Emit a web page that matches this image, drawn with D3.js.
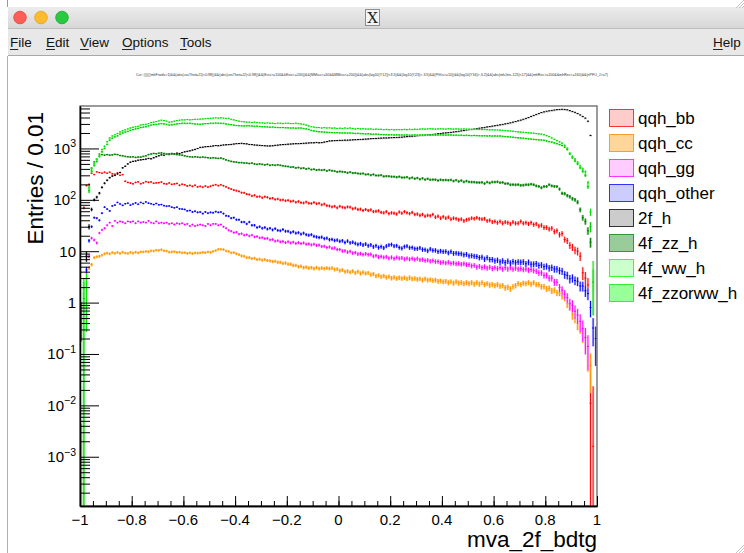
<!DOCTYPE html>
<html>
<head>
<meta charset="utf-8">
<script src="https://cdn.jsdelivr.net/npm/d3@7"></script>
<style>
  html, body { margin: 0; padding: 0; background: #fff; overflow: hidden; }
  svg { display: block; font-family: "Liberation Sans", Arial, Helvetica, sans-serif; }
</style>
</head>
<body>
<svg id="canvas" width="744" height="553"></svg>
<script>
// ---------------------------------------------------------------
// Histogram contents: 200 bins of width 0.01 on [-1, 1]
// ---------------------------------------------------------------
const xRange = [-1, 1];
const binWidth = 0.01;

const seriesNames = ["qqh_bb", "qqh_cc", "qqh_gg", "qqh_other", "2f_h", "4f_zz_h", "4f_ww_h", "4f_zzorww_h"];

const qqh_bb = [
  0.6, 70, 190, 200, 330, 310, 350, 340, 330, 345,
  330, 345, 320, 315, 335, 300, 310, 230, 218, 212,
  205, 218, 224, 206, 214, 226, 219, 223, 210, 214,
  216, 222, 207, 203, 213, 200, 204, 208, 192, 201,
  196, 186, 191, 183, 192, 179, 183, 176, 185, 177,
  184, 191, 197, 189, 196, 188, 179, 169, 162, 155,
  151, 146, 138, 137, 129, 127, 119, 123, 115, 116,
  110, 115, 112, 106, 108, 102, 104, 99, 100, 96,
  98, 93, 95, 90, 93, 88, 87, 91, 86, 85,
  89, 84, 86, 80, 83, 77, 76, 73, 75, 70,
  75, 72, 70, 73, 72, 67, 69, 65, 66, 62,
  65, 62, 64, 59, 60, 61, 57, 56, 59, 54,
  56, 55, 53, 58, 55, 59, 56, 54, 57, 52,
  53, 50, 52, 48, 50, 49, 52, 46, 48, 44,
  47, 44, 46, 42, 44, 43, 41, 42, 39, 41,
  42, 44, 43, 45, 43, 42, 43, 39, 40, 37,
  38, 36, 38, 35, 37, 36, 34, 37, 35, 35,
  38, 35, 36, 34, 36, 33, 34, 31, 32, 29,
  29, 27, 28, 24, 25, 21, 22, 17, 16, 13,
  12, 10.5, 10, 8, 3.8, 3, 2.2, 0.011, 0.0016, 0
];

const qqh_cc = [
  0.0005, 0.0006, 2.8, 4.7, 5.5, 7.5, 7.8, 8, 8.4, 8.9,
  9.2, 8.9, 9.4, 9.1, 9.5, 9.1, 9.6, 9.2, 9.1, 9.5,
  9.2, 9.6, 9.3, 9.7, 9.7, 9.9, 9.8, 10.2, 10.1, 10.5,
  10.4, 10.7, 10.2, 10.1, 9.6, 9.7, 9.8, 9.5, 9.6, 9.3,
  9.4, 9.1, 9.3, 9.0, 9.3, 9.2, 9.3, 9.5, 9.4, 9.7,
  9.5, 9.9, 10.3, 10.9, 10.9, 10.8, 10.1, 9.9, 9.3, 9.4,
  8.9, 8.6, 8.1, 8.0, 7.5, 7.5, 7.2, 7.3, 6.9, 7.0,
  6.7, 6.9, 6.6, 6.5, 6.3, 6.4, 6.1, 6.1, 5.8, 5.9,
  5.6, 5.6, 5.3, 5.3, 5.0, 5.1, 4.8, 4.9, 4.7, 4.8,
  4.6, 4.8, 4.6, 4.7, 4.6, 4.7, 4.6, 4.7, 4.4, 4.5,
  4.2, 4.3, 4.0, 4.1, 3.9, 4.1, 3.8, 4.0, 3.7, 3.9,
  3.7, 3.8, 3.5, 3.6, 3.3, 3.4, 3.2, 3.3, 3.1, 3.2,
  3.0, 3.1, 2.95, 3.05, 2.95, 3.05, 2.9, 3.05, 2.9, 2.95,
  2.85, 2.9, 2.75, 2.9, 2.75, 2.8, 2.7, 2.75, 2.6, 2.65,
  2.55, 2.6, 2.45, 2.55, 2.4, 2.55, 2.4, 2.45, 2.35, 2.45,
  2.35, 2.45, 2.3, 2.45, 2.3, 2.45, 2.25, 2.35, 2.2, 2.25,
  2.15, 2.25, 2.1, 2.15, 1.95, 2.0, 1.85, 2.05, 2.15, 2.35,
  2.25, 2.4, 2.35, 2.45, 2.3, 2.45, 2.25, 2.25, 2.05, 2.05,
  1.85, 1.9, 1.7, 1.75, 1.55, 1.55, 1.35, 1.25, 0.95, 0.85,
  0.6, 0.52, 0.4, 0.35, 0.25, 0.19, 0.1, 0.06, 0, 0
];

const qqh_gg = [
  0, 0, 1.7, 8, 18, 16.5, 14.5, 22.6, 26, 28,
  32, 36, 31, 39, 36, 38, 37, 35, 38, 37,
  38, 35, 38, 36, 37, 36, 39, 36, 35, 38,
  35, 36, 35, 36, 34, 35, 33, 35, 34, 35,
  33, 34, 31, 33, 31, 32, 33, 32, 31, 34,
  32, 34, 34, 32, 33, 30, 28, 25.5, 24.5, 23,
  23.5, 21.5, 22, 20.5, 21, 19.8, 20.6, 19, 19.4, 18.2,
  18.4, 17.6, 17.8, 16.6, 16.9, 15.7, 16, 15.2, 15.5, 14.7,
  15.3, 14.5, 15, 14.2, 14.7, 14.1, 14.5, 13.7, 13.9, 13.3,
  13.7, 13, 13.2, 12.4, 12.5, 11.8, 12.1, 11.4, 11.6, 10.8,
  10.8, 10.1, 10.2, 9.6, 9.9, 9.2, 9.4, 8.8, 9.0, 8.6,
  8.9, 8.6, 8.7, 8.0, 8.2, 7.7, 7.9, 7.6, 7.8, 7.3,
  7.6, 7.2, 7.6, 7.3, 7.4, 7.0, 7.3, 7.0, 7.2, 6.9,
  7.2, 6.8, 6.9, 6.6, 6.7, 6.4, 6.6, 6.3, 6.3, 6.0,
  6.1, 5.9, 6.1, 5.8, 5.9, 5.7, 5.8, 5.6, 5.7, 5.5,
  5.5, 5.2, 5.3, 4.9, 5.1, 4.8, 5.0, 4.7, 4.9, 4.6,
  4.8, 4.6, 4.8, 4.5, 4.8, 4.5, 4.8, 4.5, 4.7, 4.5,
  4.6, 4.4, 4.5, 4.3, 4.4, 4.2, 4.1, 3.8, 3.8, 3.4,
  3.4, 3.0, 3.0, 2.5, 2.5, 1.95, 1.75, 1.45, 1.25, 0.95,
  0.88, 0.68, 0.57, 0.43, 0.31, 0.21, 0.14, 0, 0, 0
];

const qqh_other = [
  0, 0.004, 4.3, 16, 30, 45, 44, 40, 55, 72,
  66, 61, 76, 79, 89, 83, 78, 84, 86, 79,
  83, 87, 82, 89, 85, 91, 86, 84, 81, 85,
  80, 81, 77, 75, 76, 72, 70, 72, 67, 66,
  65, 61, 62, 58, 60, 57, 58, 54, 58, 55,
  57, 56, 59, 57, 58, 54, 49, 48, 44, 45,
  41, 41, 37, 37, 34, 37, 32, 32, 29, 30,
  28, 29, 27, 28, 26, 27.5, 25.5, 25, 26.5, 24.5,
  24.5, 23, 24, 22.5, 23, 21.5, 22.5, 21, 20.5, 21,
  19.5, 19, 18.5, 18.8, 17.6, 18, 16.8, 17, 16.2, 16.5,
  15.6, 16, 14.8, 15.8, 14.6, 15, 14.2, 13.6, 14, 13.2,
  13.8, 12.8, 13.3, 12.2, 12.8, 11.8, 12.3, 11.6, 12.6, 13.2,
  13.5, 12.6, 12.8, 11.8, 11.4, 12.3, 12.6, 11.7, 11.8, 11.2,
  11.2, 11.6, 10.8, 10.7, 10.2, 11, 10.4, 10.4, 9.8, 10.1,
  9.8, 9.9, 9.3, 9.8, 9.1, 9.2, 9.0, 8.9, 8.5, 8.7,
  8.1, 8.2, 8.0, 7.9, 7.5, 7.7, 7.0, 7.5, 6.9, 6.9,
  6.5, 6.7, 6.2, 6.5, 6.0, 6.4, 5.9, 6.3, 6.0, 6.2,
  6.1, 6.2, 5.7, 6.1, 5.6, 5.6, 5.7, 5.3, 5.4, 5.0,
  5.1, 4.7, 4.8, 4.5, 4.5, 4.2, 4.1, 3.5, 3.4, 2.9,
  3.0, 2.7, 2.6, 2.1, 2.1, 1.7, 1.5, 0.8, 0.32, 0.2
];

const f2_h = [
  0, 0, 8, 30, 65, 100, 113, 135, 175, 210,
  240, 270, 290, 300, 320, 340, 420, 450, 500, 540,
  560, 570, 590, 600, 610, 620, 640, 630, 660, 690,
  720, 750, 740, 770, 760, 780, 790, 810, 800, 830,
  860, 880, 900, 930, 960, 1000, 1050, 1060, 1080, 1090,
  1100, 1120, 1140, 1130, 1150, 1170, 1180, 1190, 1200, 1220,
  1240, 1250, 1260, 1240, 1230, 1200, 1190, 1170, 1160, 1150,
  1140, 1130, 1120, 1120, 1130, 1150, 1160, 1180, 1190, 1200,
  1210, 1220, 1230, 1240, 1240, 1250, 1260, 1270, 1280, 1290,
  1290, 1310, 1290, 1300, 1330, 1360, 1400, 1410, 1420, 1430,
  1440, 1440, 1450, 1450, 1460, 1470, 1480, 1490, 1500, 1510,
  1520, 1530, 1550, 1560, 1570, 1580, 1590, 1600, 1600, 1610,
  1620, 1630, 1640, 1650, 1660, 1680, 1700, 1710, 1730, 1750,
  1770, 1790, 1800, 1820, 1840, 1860, 1880, 1900, 1930, 1960,
  1990, 2010, 2030, 2060, 2090, 2120, 2160, 2200, 2240, 2280,
  2320, 2360, 2400, 2440, 2480, 2520, 2570, 2620, 2670, 2720,
  2770, 2830, 2880, 2940, 3010, 3080, 3150, 3250, 3350, 3450,
  3560, 3700, 3850, 4000, 4200, 4400, 4600, 4800, 5000, 5150,
  5300, 5400, 5500, 5600, 5700, 5750, 5800, 5750, 5650, 5450,
  5250, 5050, 4800, 4500, 4200, 3900, 3400, 1800, 0, 0
];

const f4_zz_h = [
  0, 0.8, 0, 180, 415, 545, 620, 750, 760, 740,
  760, 740, 750, 770, 760, 730, 720, 700, 690, 680,
  690, 670, 680, 680, 700, 720, 760, 780, 800, 790,
  810, 820, 800, 780, 790, 800, 770, 760, 750, 740,
  720, 700, 690, 680, 690, 680, 670, 680, 670, 660,
  650, 660, 650, 640, 650, 630, 600, 580, 560, 550,
  540, 530, 530, 520, 520, 510, 520, 500, 490, 500,
  490, 480, 490, 470, 480, 470, 480, 470, 460, 450,
  445, 432, 436, 418, 425, 410, 416, 398, 408, 388,
  394, 380, 386, 378, 384, 366, 378, 368, 362, 350,
  356, 352, 348, 336, 346, 332, 334, 326, 322, 326,
  312, 315, 302, 312, 298, 298, 302, 286, 289, 288,
  283, 282, 276, 283, 272, 272, 277, 262, 271, 258,
  266, 252, 262, 248, 257, 246, 248, 247, 238, 246,
  242, 243, 241, 244, 232, 242, 228, 237, 223, 232,
  223, 222, 221, 218, 217, 219, 208, 222, 213, 222,
  222, 224, 216, 218, 207, 208, 197, 198, 196, 198,
  192, 193, 197, 197, 202, 197, 187, 183, 172, 182,
  182, 197, 187, 183, 182, 162, 134, 132, 121, 115,
  105, 100, 90, 64, 45, 38, 25, 15, 0, 0
];

const f4_ww_h = [
  0, 1.5, 2, 170, 400, 520, 620, 780, 950, 1100,
  1350, 1600, 1750, 1850, 1950, 2100, 2200, 2300, 2400, 2500,
  2580, 2650, 2700, 2860, 2900, 2950, 3050, 3200, 3250, 3350,
  3450, 3550, 3500, 3400, 3250, 3300, 3400, 3500, 3550, 3600,
  3600, 3650, 3600, 3650, 3700, 3700, 3720, 3750, 3800, 3850,
  3870, 3900, 3950, 3900, 3950, 3900, 3850, 3870, 3700, 3600,
  3500, 3400, 3350, 3300, 3250, 3250, 3200, 3250, 3200, 3150,
  3150, 3100, 3150, 3100, 3100, 3050, 3100, 3100, 3050, 3100,
  3100, 3050, 3050, 3100, 3050, 3000, 2950, 2850, 2750, 2650,
  2600, 2550, 2550, 2500, 2550, 2500, 2520, 2480, 2500, 2450,
  2480, 2450, 2500, 2450, 2500, 2450, 2400, 2450, 2400, 2420,
  2400, 2380, 2400, 2350, 2380, 2350, 2360, 2330, 2350, 2320,
  2340, 2300, 2330, 2330, 2320, 2350, 2320, 2360, 2340, 2370,
  2350, 2380, 2400, 2380, 2400, 2420, 2400, 2380, 2400, 2420,
  2400, 2380, 2420, 2400, 2380, 2400, 2390, 2380, 2400, 2370,
  2380, 2350, 2370, 2350, 2340, 2330, 2350, 2320, 2300, 2310,
  2290, 2280, 2270, 2250, 2230, 2200, 2180, 2160, 2130, 2100,
  2080, 2060, 2040, 2020, 2000, 1980, 1950, 1920, 1900, 1850,
  1780, 1700, 1600, 1500, 1420, 1350, 1270, 1150, 1010, 810,
  700, 620, 540, 455, 400, 350, 215, 58, 4, 0
];

const f4_zzorww_h = [
  0, 1.2, 0, 150, 360, 470, 560, 700, 860, 1000,
  1200, 1450, 1580, 1680, 1760, 1900, 2000, 2080, 2150, 2250,
  2330, 2400, 2450, 2560, 2600, 2650, 2750, 2850, 2900, 2950,
  3000, 3050, 3000, 2950, 2860, 2880, 2950, 3000, 3050, 3100,
  3100, 3080, 3100, 3050, 3000, 2980, 2960, 3000, 3050, 3050,
  3100, 3100, 3120, 3100, 3100, 3080, 3000, 2950, 2900, 2850,
  2800, 2780, 2760, 2750, 2760, 2760, 2740, 2700, 2720, 2680,
  2650, 2640, 2620, 2600, 2620, 2580, 2560, 2550, 2560, 2530,
  2520, 2500, 2510, 2480, 2500, 2500, 2450, 2400, 2350, 2250,
  2200, 2150, 2120, 2100, 2080, 2060, 2050, 2040, 2020, 2030,
  2010, 2000, 2010, 1990, 2000, 1980, 1960, 1970, 1950, 1940,
  1920, 1930, 1900, 1890, 1900, 1880, 1870, 1860, 1850, 1840,
  1850, 1830, 1840, 1830, 1830, 1820, 1830, 1810, 1820, 1830,
  1820, 1830, 1840, 1820, 1830, 1810, 1830, 1820, 1830, 1840,
  1830, 1820, 1830, 1830, 1810, 1820, 1800, 1810, 1790, 1800,
  1790, 1780, 1790, 1780, 1770, 1760, 1770, 1750, 1760, 1740,
  1750, 1740, 1750, 1720, 1700, 1690, 1670, 1650, 1630, 1610,
  1600, 1580, 1560, 1540, 1520, 1500, 1490, 1470, 1460, 1440,
  1400, 1360, 1330, 1280, 1240, 1190, 1140, 1060, 950, 780,
  660, 570, 500, 420, 360, 300, 180, 30, 2.5, 0
];

// Mean event weight of each sample (statistical error = sqrt(content * weight))
const entryWeights = [0.3, 0.03, 0.06, 0.1, 0.4, 0.7, 1.5, 1.5];

const seriesValues = [qqh_bb, qqh_cc, qqh_gg, qqh_other, f2_h, f4_zz_h, f4_ww_h, f4_zzorww_h];

// Axis tick labels
const xTickValues = [-1, -0.8, -0.6, -0.4, -0.2, 0, 0.2, 0.4, 0.6, 0.8, 1];
const yDecadeExponents = [-3, -2, -1, 0, 1, 2, 3];
const yRange = [1.1e-4, 6700];

const xTitle = "mva_2f_bdtg";
const yTitle = "Entries / 0.01";
const cutTitle = "Cut: ((((((mhFrwds>1)&&(abs(cosThetaJ1)<0.98))&&(abs(cosThetaJ2)<0.98))&&(Evis>=100&&Evis<=240))&&(MMiss>=50&&MMiss<=200))&&(abs(log10(Y12))<3.5)&&(log10(Y23)>-3.5)&&(PtVis>=10))&&(log10(Y34)>-5.2)&&(abs(mhJets-125)<17)&&(mhRec>=100&&mhRec<=160)&&(nPFO_J>=7)";

// Styles
const lineColors = ["#ff0000", "#ff9900", "#ff00ff", "#0000ff", "#000000", "#008000", "#00e000", "#00cc00"];
const fillColors = ["#ffcccc", "#ffd699", "#ffccff", "#ccccff", "#cccccc", "#99cc99", "#ccffcc", "#99ff99"];
const legendBorder = ["#ff3333", "#ff9933", "#ff33ff", "#3333ff", "#333333", "#339933", "#33ff33", "#33ee33"];

// ---------------------------------------------------------------
const svg = d3.select("#canvas");
const W = 744, H = 553;

// ---------- window frame ----------
svg.append("rect").attr("x", 0).attr("y", 0).attr("width", W).attr("height", H).attr("fill", "#ffffff");
svg.append("line").attr("x1", 7.5).attr("x2", 7.5).attr("y1", 0).attr("y2", 7).attr("stroke", "#9a9a9a");
svg.append("line").attr("x1", 7.5).attr("x2", 7.5).attr("y1", 56).attr("y2", H).attr("stroke", "#b0b0b0");

const defs = svg.append("defs");
const tb = defs.append("linearGradient").attr("id", "titlebar").attr("x1", 0).attr("x2", 0).attr("y1", 0).attr("y2", 1);
tb.append("stop").attr("offset", "0%").attr("stop-color", "#ececec");
tb.append("stop").attr("offset", "100%").attr("stop-color", "#d6d6d6");

svg.append("rect").attr("x", 8).attr("y", 7).attr("width", W - 8).attr("height", 22).attr("fill", "url(#titlebar)");
svg.append("line").attr("x1", 8).attr("x2", W).attr("y1", 28.5).attr("y2", 28.5).attr("stroke", "#bdbdbd");
svg.append("rect").attr("x", 8).attr("y", 29).attr("width", W - 8).attr("height", 26).attr("fill", "#e8e8e8");
svg.append("line").attr("x1", 8).attr("x2", W).attr("y1", 55.5).attr("y2", 55.5).attr("stroke", "#a8a8a8");

// traffic lights
[["#fc5f57", "#e0443e", 20], ["#fdbc2e", "#dea123", 41], ["#29c940", "#1aab29", 62]].forEach(([f, s, cx]) => {
  svg.append("circle").attr("cx", cx).attr("cy", 17.5).attr("r", 6.3).attr("fill", f).attr("stroke", s).attr("stroke-width", 0.8);
});

// X icon in the title bar
svg.append("rect").attr("x", 365.5).attr("y", 9.5).attr("width", 14).attr("height", 16).attr("fill", "#f4f4f4").attr("stroke", "#8c8c8c");
svg.append("text").attr("x", 372.5).attr("y", 23).attr("text-anchor", "middle")
  .attr("font-family", "'DejaVu Serif', 'Liberation Serif', serif").attr("font-size", 15).attr("fill", "#222").text("X");

// menu entries
const menu = [["File", 10], ["Edit", 46], ["View", 80], ["Options", 122], ["Tools", 180], ["Help", 713]];
menu.forEach(([t, x]) => {
  const txt = svg.append("text").attr("x", x).attr("y", 47).attr("font-size", 13.5).attr("fill", "#111").text(t);
  const w1 = txt.node().getSubStringLength(0, 1);
  svg.append("line").attr("x1", x).attr("x2", x + w1).attr("y1", 49.5).attr("y2", 49.5).attr("stroke", "#111").attr("stroke-width", 0.9);
});

// resize grips
[[736, 0, 744, 8], [736, 545, 744, 553]].forEach(([x0, y0, x1, y1]) => {
  for (let k = 0; k < 3; k++) {
    svg.append("line").attr("x1", x0 + k * 3).attr("y1", y1).attr("x2", x1).attr("y2", y0 + k * 3)
      .attr("stroke", "#b5b5b5").attr("stroke-width", 0.8);
  }
});

// ---------- plot frame ----------
const frame = { left: 80, right: 597, top: 106, bottom: 506 };
const x = d3.scaleLinear().domain(xRange).range([frame.left, frame.right]);
const y = d3.scaleLog().domain(yRange).range([frame.bottom, frame.top]);

// cut string above the frame
svg.append("text").attr("x", 136).attr("y", 75.5).attr("font-size", 4.2).attr("fill", "#333")
  .attr("textLength", 472).attr("lengthAdjust", "spacingAndGlyphs").text(cutTitle);

const clipId = "frameClip";
defs.append("clipPath").attr("id", clipId).append("rect")
  .attr("x", frame.left).attr("y", frame.top).attr("width", frame.right - frame.left).attr("height", frame.bottom - frame.top);

// ---------- histogram points ----------
const plot = svg.append("g").attr("clip-path", `url(#${clipId})`);

seriesValues.forEach((vals, s) => {
  const pts = vals.map((v, i) => {
    const err = Math.sqrt(v * entryWeights[s]);
    return {
      lo: xRange[0] + i * binWidth,
      hi: xRange[0] + (i + 1) * binWidth,
      v,
      up: Math.min(v + err, yRange[1] * 2),
      dn: Math.max(v - err, yRange[0] * 0.5)
    };
  }).filter(d => d.v > 0 && d.lo < xRange[1]);

  const g = plot.append("g");
  // error boxes
  g.selectAll("rect").data(pts).join("rect")
    .attr("x", d => x(d.lo))
    .attr("width", d => x(d.hi) - x(d.lo))
    .attr("y", d => y(d.up))
    .attr("height", d => Math.max(y(d.dn) - y(d.up), 1.6))
    .attr("fill", fillColors[s])
    .attr("fill-opacity", 0.9);
  // error bars
  const cx = d => (x(d.lo) + x(d.hi)) / 2;
  g.selectAll("line.v").data(pts).join("line").attr("class", "v")
    .attr("x1", cx).attr("x2", cx)
    .attr("y1", d => y(d.up)).attr("y2", d => y(d.dn))
    .attr("stroke", lineColors[s]).attr("stroke-width", 1);
  g.selectAll("line.h").data(pts).join("line").attr("class", "h")
    .attr("x1", d => x(d.lo) + 0.3).attr("x2", d => x(d.hi) - 0.3)
    .attr("y1", d => y(d.v)).attr("y2", d => y(d.v))
    .attr("stroke", lineColors[s]).attr("stroke-width", 1);
});

// ---------- frame border ----------
svg.append("rect").attr("x", frame.left).attr("y", frame.top)
  .attr("width", frame.right - frame.left).attr("height", frame.bottom - frame.top)
  .attr("fill", "none").attr("stroke", "#666").attr("stroke-width", 1.3);

// ---------- axes ----------
const decadeTicks = yDecadeExponents.map(e => Math.pow(10, e));
const minorTicks = [];
for (let e = -4; e <= 3; e++) {
  for (let m = 2; m <= 9; m++) {
    const v = m * Math.pow(10, e);
    if (v >= yRange[0] && v <= yRange[1]) minorTicks.push(v);
  }
}
const yAxisMajor = svg.append("g").attr("transform", `translate(${frame.left},0)`)
  .call(d3.axisRight(y).tickValues(decadeTicks).tickSize(19).tickSizeOuter(0).tickFormat(""));
const yAxisMinor = svg.append("g").attr("transform", `translate(${frame.left},0)`)
  .call(d3.axisRight(y).tickValues(minorTicks).tickSize(10).tickSizeOuter(0).tickFormat(""));

const xMinor = d3.range(-1, 1.0001, 0.05).map(v => Math.round(v * 100) / 100);
const xAxisMinor = svg.append("g").attr("transform", `translate(0,${frame.bottom})`)
  .call(d3.axisTop(x).tickValues(xMinor).tickSize(5).tickSizeOuter(0).tickFormat(""));
const xAxisMajor = svg.append("g").attr("transform", `translate(0,${frame.bottom})`)
  .call(d3.axisTop(x).tickValues(xTickValues).tickSize(10).tickSizeOuter(0).tickFormat(""));

[yAxisMajor, yAxisMinor, xAxisMajor, xAxisMinor].forEach(a => {
  a.selectAll("line").attr("stroke", "#000").attr("stroke-width", 1);
  a.select(".domain").attr("stroke", "#000").attr("stroke-width", 1.3);
});

// x tick labels
const fmtX = v => (v < 0 ? "\u2212" : "") + d3.format("")(Math.abs(v));
svg.append("g").selectAll("text").data(xTickValues).join("text")
  .attr("x", d => x(d)).attr("y", 524.5).attr("text-anchor", "middle")
  .attr("font-size", 15).attr("fill", "#000").text(fmtX);

// y tick labels (10^n)
const yLab = svg.append("g");
yDecadeExponents.forEach(e => {
  const t = yLab.append("text").attr("x", 76).attr("y", y(Math.pow(10, e)) + 5.5)
    .attr("text-anchor", "end").attr("font-size", 15).attr("fill", "#000");
  if (e === 0) t.text("1");
  else if (e === 1) t.text("10");
  else {
    t.append("tspan").text("10");
    t.append("tspan").attr("font-size", 10.5).attr("dy", -6.5)
      .text((e < 0 ? "\u2212" : "") + Math.abs(e));
  }
});

// axis titles
svg.append("text").attr("x", frame.right).attr("y", 547).attr("text-anchor", "end")
  .attr("font-size", 22.5).attr("fill", "#000").text(xTitle);
svg.append("text").attr("transform", `translate(43,112) rotate(-90)`).attr("text-anchor", "end")
  .attr("font-size", 22.5).attr("fill", "#000").text(yTitle);

// ---------- legend ----------
const legend = svg.append("g");
seriesNames.forEach((name, i) => {
  const top = 109.5 + i * 25;
  legend.append("rect").attr("x", 609.5).attr("y", top).attr("width", 24).attr("height", 17)
    .attr("fill", fillColors[i]).attr("stroke", legendBorder[i]).attr("stroke-width", 1);
  legend.append("text").attr("x", 638).attr("y", top + 14).attr("font-size", 17).attr("fill", "#000").text(name);
});
</script>
</body>
</html>
